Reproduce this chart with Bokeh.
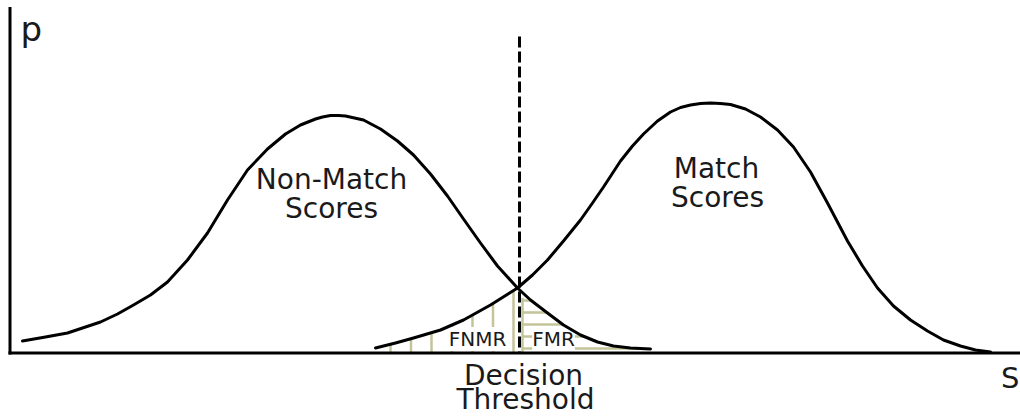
import numpy as np
from bokeh.plotting import figure
from bokeh.models import Range1d
from bokeh.core.properties import value
from bokeh.embed import file_html
from bokeh.resources import INLINE

# ---- data (score units ~ pixels, density ~ pixels above baseline) ----
nonmatch_score = [22, 45, 67, 85, 100, 117, 133, 150, 167, 187, 207, 227, 247, 267, 285, 300, 315, 322, 330,
                  338, 345, 363, 380, 397, 413, 430, 447, 463, 480, 497, 517, 530, 547, 563, 580, 597, 613, 630, 650]
nonmatch_density = [12, 16, 20, 26, 31, 39, 48, 58, 71, 93, 120, 153, 183, 204, 219, 228, 234, 236, 237.5,
                    237.5, 237, 233, 224, 212, 198, 179, 157, 134, 110, 87, 65, 53, 40, 28, 18, 11, 7, 5, 4]

match_score = [375, 395, 413, 440, 463, 490, 517, 532, 547, 563, 580, 592, 603, 620, 632, 643, 657, 670,
               680, 690, 700, 710, 720, 730, 745, 760, 777, 793, 810, 827, 847, 862, 877, 893, 910, 927,
               943, 960, 975, 990]
match_density = [5, 10, 15, 23, 33, 48, 65, 78, 93, 112, 133, 150, 166, 192, 207, 219, 232, 241,
                 245.5, 248, 249.5, 250, 249.5, 248.5, 244, 236, 223, 206, 181, 150, 112, 87, 65, 47, 33, 22,
                 13, 7, 3, 1]

threshold = 519
threshold_top = 316.5

label_text = ["Non-Match", "Scores", "Match", "Scores", "Decision", "Threshold"]
label_x = [331, 331, 716, 717, 523, 525]
label_y = [166, 137, 177, 148, -30, -54]

region_text = ["FNMR", "FMR"]
region_x = [477, 553]
region_y = [6, 6]

FONT = value("DejaVu Sans")
INK = "#1a1a1a"
HATCH = "#c4c49a"
TXT_SHIFT = 8  # compensation for baseline placement

p = figure(width=1020, height=416, output_backend="svg", toolbar_location=None,
           x_range=Range1d(0, 1020), y_range=Range1d(-63.5, 352.5),
           min_border=0, x_axis_location=None, y_axis_location=None,
           outline_line_color=None, background_fill_color="white", border_fill_color="white")
p.grid.visible = False

# ---- hatching: FNMR (vertical lines under match curve), FMR (horizontal under non-match) ----
fnmr_x = np.arange(threshold - 6, 380, -20.5)
fnmr_top = np.interp(fnmr_x, match_score, match_density)
p.segment(x0=fnmr_x, y0=np.zeros_like(fnmr_x), x1=fnmr_x, y1=fnmr_top, line_color=HATCH, line_width=2.5)

ns = np.array(nonmatch_score, dtype=float)
nd = np.array(nonmatch_density, dtype=float)
right = ns >= 517
fmr_h = np.arange(4.5, 56, 12)
fmr_end = np.interp(fmr_h, nd[right][::-1], ns[right][::-1])
p.segment(x0=np.full(len(fmr_h), threshold + 3), y0=fmr_h, x1=fmr_end, y1=fmr_h, line_color=HATCH, line_width=2.5)
p.segment(x0=[threshold + 3], y0=[0], x1=[threshold + 3], y1=[55], line_color=HATCH, line_width=2.5)

p.text(x=region_x, y=[v + TXT_SHIFT for v in region_y], text=region_text, text_font=FONT,
       text_font_size="20px", text_align="center", text_baseline="alphabetic", text_color=INK,
       background_fill_color="white")

# ---- curves ----
p.line(nonmatch_score, nonmatch_density, line_color="black", line_width=3, line_cap="round", line_join="round")
p.line(match_score, match_density, line_color="black", line_width=3, line_cap="round", line_join="round")

# ---- decision threshold ----
p.segment(x0=[threshold], y0=[threshold_top], x1=[threshold], y1=[0], line_color="black",
          line_width=3, line_dash="11 4")

# ---- axes ----
p.segment(x0=[9.5], y0=[-1.5], x1=[9.5], y1=[346], line_color="black", line_width=3)
p.segment(x0=[8], y0=[0], x1=[1020], y1=[0], line_color="black", line_width=3)

# ---- labels ----
p.text(x=label_x, y=[v + TXT_SHIFT for v in label_y], text=label_text, text_font=FONT, text_font_size="28px",
       text_align="center", text_baseline="alphabetic", text_color=INK)
p.text(x=[20], y=[316 + TXT_SHIFT], text=["p"], text_font=FONT, text_font_size="34px",
       text_align="left", text_baseline="alphabetic", text_color=INK)
p.text(x=[1019], y=[-32.5 + TXT_SHIFT], text=["S"], text_font=FONT, text_font_size="29px",
       text_align="right", text_baseline="alphabetic", text_color=INK)

open("out.html", "w").write(file_html(p, INLINE))
